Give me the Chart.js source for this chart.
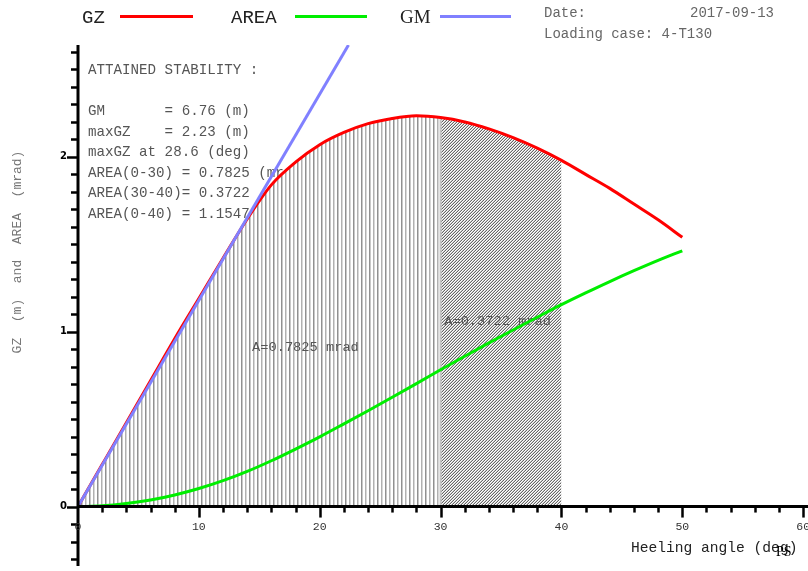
<!DOCTYPE html>
<html>
<head>
<meta charset="utf-8">
<script src="https://cdn.jsdelivr.net/npm/chart.js@4/dist/chart.umd.min.js"></script>
<style>
  html, body { margin: 0; padding: 0; background: #fff; }
  canvas { display: block; }
</style>
</head>
<body>
<canvas id="stabChart" width="808" height="571"></canvas>
<script>
// heeling angles (deg) and curve values
const angles = [0, 2, 4, 6, 8, 10, 12, 14, 16, 18, 20, 22, 24, 26, 28, 30, 32, 34, 36, 38, 40, 42, 44, 46, 48, 50];
const gzValues = [0, 0.24, 0.48, 0.72, 0.96, 1.19, 1.42, 1.645, 1.84, 1.97, 2.07, 2.14, 2.19, 2.22, 2.235, 2.225, 2.20, 2.16, 2.11, 2.05, 1.98, 1.90, 1.82, 1.73, 1.64, 1.54];
const areaValues = [0, 0.004, 0.017, 0.037, 0.066, 0.103, 0.148, 0.201, 0.262, 0.329, 0.399, 0.473, 0.548, 0.625, 0.703, 0.7825, 0.860, 0.936, 1.010, 1.083, 1.1547, 1.222, 1.287, 1.349, 1.408, 1.463];
const gmAngles = [0, 22.38];
const gmValues = [0, 2.64];

const xTicks = [0, 10, 20, 30, 40, 50, 60];
const yTicks = [0, 1, 2];

const statLines = [
    'ATTAINED STABILITY :',
    '',
    'GM       = 6.76 (m)',
    'maxGZ    = 2.23 (m)',
    'maxGZ at 28.6 (deg)',
    'AREA(0-30) = 0.7825 (mrad)',
    'AREA(30-40)= 0.3722',
    'AREA(0-40) = 1.1547'
];
const areaLabels = [
    { x: 14.4, y: 0.91, text: 'A=0.7825 mrad' },
    { x: 30.3, y: 1.06, text: 'A=0.3722 mrad' }
];

const mono = '"Liberation Mono", "Courier New", monospace';

function pts(xs, ys) {
    return xs.map((x, i) => ({ x: x, y: ys[i] }));
}
function range(lo, hi) {
    return pts(angles, gzValues).filter((p) => p.x >= lo && p.x <= hi);
}

const canvas = document.getElementById('stabChart');
const ctx = canvas.getContext('2d');

function makePattern(w, h, colorAt) {
    const c = document.createElement('canvas');
    c.width = w;
    c.height = h;
    const g = c.getContext('2d');
    const img = g.createImageData(w, h);
    for (let y = 0; y < h; y++) {
        for (let x = 0; x < w; x++) {
            const v = colorAt(x, y);
            const k = (y * w + x) * 4;
            img.data[k] = v; img.data[k + 1] = v; img.data[k + 2] = v; img.data[k + 3] = 255;
        }
    }
    g.putImageData(img, 0, 0);
    return ctx.createPattern(c, 'repeat');
}

const vCols = [255, 0x90, 0xc8, 255, 255, 0xb0, 0xd8, 255];
const verticalHatch = makePattern(8, 1, (x) => vCols[x]);
const dCols = [255, 0xcc, 0x66];
const diagonalHatch = makePattern(3, 3, (x, y) => dCols[(x + y) % 3]);

const overlay = {
    id: 'overlay',
    beforeDatasetsDraw(chart) {
        const c = chart.ctx;
        c.save();
        c.textBaseline = 'middle';
        c.textAlign = 'left';

        // stats block (hidden partly by the hatched area)
        c.fillStyle = '#555';
        c.font = '14.2px ' + mono;
        statLines.forEach((line, i) => c.fillText(line, 88, 70 + i * 20.6));

        // legend
        c.fillStyle = '#222';
        c.font = '19px ' + mono;
        c.fillText('GZ', 82, 18);
        c.fillText('AREA', 231, 18);
        c.font = '19px "Liberation Serif", serif';
        c.fillText('GM', 400, 18);
        c.lineWidth = 3;
        [[120, 193, '#ff0000'], [295, 367, '#00ee00'], [440, 511, '#8080ff']].forEach((l) => {
            c.strokeStyle = l[2];
            c.beginPath();
            c.moveTo(l[0], 16.5);
            c.lineTo(l[1], 16.5);
            c.stroke();
        });

        // date block
        c.fillStyle = '#666';
        c.font = '14px ' + mono;
        c.fillText('Date:', 544, 13);
        c.fillText('2017-09-13', 690, 13);
        c.fillText('Loading case: 4-T130', 544, 34);

        // y axis title
        c.save();
        c.translate(18, 252);
        c.rotate(-Math.PI / 2);
        c.textAlign = 'center';
        c.fillStyle = '#777';
        c.font = '13px ' + mono;
        c.fillText('GZ  (m)  and  AREA  (mrad)', 0, 0);
        c.restore();
        c.restore();
    },
    afterDatasetDraw(chart, args) {
        if (args.index !== 4) return;
        const c = chart.ctx;
        const xs = chart.scales.x;
        const ys = chart.scales.y;
        c.save();
        // boundary between the two hatched areas
        c.strokeStyle = '#c4c4c4';
        c.lineWidth = 2;
        c.beginPath();
        c.moveTo(xs.getPixelForValue(30), ys.getPixelForValue(0));
        c.lineTo(xs.getPixelForValue(30), ys.getPixelForValue(gzValues[angles.indexOf(30)]));
        c.stroke();
        c.fillStyle = '#555';
        c.font = '13.7px ' + mono;
        c.textBaseline = 'middle';
        c.textAlign = 'left';
        areaLabels.forEach((a) => c.fillText(a.text, xs.getPixelForValue(a.x), ys.getPixelForValue(a.y)));
        c.restore();
    },
    afterDatasetsDraw(chart) {
        const c = chart.ctx;
        const xs = chart.scales.x;
        const ys = chart.scales.y;
        const x0 = xs.getPixelForValue(0);
        const y0 = ys.getPixelForValue(0);
        c.save();
        c.strokeStyle = '#000';
        c.fillStyle = '#000';

        // axis lines
        c.lineWidth = 3;
        c.beginPath();
        c.moveTo(x0, chart.chartArea.top);
        c.lineTo(x0, chart.chartArea.bottom);
        c.moveTo(x0, y0);
        c.lineTo(chart.chartArea.right, y0);
        c.stroke();

        // y ticks every 0.1
        c.lineWidth = 2.5;
        for (let i = -3; i <= 26; i++) {
            const py = Math.round(ys.getPixelForValue(i / 10)) + 0.5;
            const len = i % 10 === 0 ? 11 : 7;
            c.beginPath();
            c.moveTo(x0 - len, py);
            c.lineTo(x0 + 1, py);
            c.stroke();
        }
        // x ticks every 2 deg
        for (let d = 2; d <= 60; d += 2) {
            const px = Math.round(xs.getPixelForValue(d)) + 0.5;
            const len = d % 10 === 0 ? 11 : 6;
            c.beginPath();
            c.moveTo(px, y0);
            c.lineTo(px, y0 + len);
            c.stroke();
        }

        // tick labels
        c.font = 'bold 10px "DejaVu Sans", sans-serif';
        c.textAlign = 'right';
        c.textBaseline = 'middle';
        yTicks.forEach((v) => c.fillText(String(v), 67, ys.getPixelForValue(v)));
        c.fillStyle = '#333';
        c.font = '11.5px ' + mono;
        c.textAlign = 'center';
        xTicks.forEach((v) => c.fillText(String(v), xs.getPixelForValue(v), 527));

        // x axis title
        c.fillStyle = '#222';
        c.textAlign = 'left';
        c.font = '14.6px ' + mono;
        c.fillText('Heeling angle (deg)', 631, 548);
        c.font = '14px "Liberation Serif", serif';
        c.fillStyle = '#000';
        c.fillText('PS', 776, 552);
        c.restore();
    }
};

new Chart(canvas, {
    type: 'line',
    data: {
        datasets: [
            {
                label: 'GM',
                data: pts(gmAngles, gmValues),
                borderColor: '#8080ff',
                borderWidth: 3,
                pointRadius: 0,
                fill: false,
                order: 0
            },
            {
                label: 'GZ',
                data: pts(angles, gzValues),
                borderColor: '#ff0000',
                borderWidth: 3,
                pointRadius: 0,
                cubicInterpolationMode: 'monotone',
                fill: false,
                order: 1
            },
            {
                label: 'AREA',
                data: pts(angles, areaValues),
                borderColor: '#00ee00',
                borderWidth: 3,
                pointRadius: 0,
                cubicInterpolationMode: 'monotone',
                fill: false,
                order: 1
            },
            {
                label: 'A 0-30',
                data: range(0, 30),
                borderWidth: 0,
                borderColor: 'rgba(0,0,0,0)',
                backgroundColor: verticalHatch,
                pointRadius: 0,
                cubicInterpolationMode: 'monotone',
                fill: 'origin',
                order: 3
            },
            {
                label: 'A 30-40',
                data: range(30, 40),
                borderWidth: 0,
                borderColor: 'rgba(0,0,0,0)',
                backgroundColor: diagonalHatch,
                pointRadius: 0,
                cubicInterpolationMode: 'monotone',
                fill: 'origin',
                order: 2
            }
        ]
    },
    options: {
        responsive: false,
        animation: false,
        events: [],
        layout: { padding: { left: 78, right: 0, top: 45, bottom: 5 } },
        scales: {
            x: { type: 'linear', min: 0, max: 60.4, display: false },
            y: { type: 'linear', min: -0.34, max: 2.64, display: false }
        },
        plugins: {
            legend: { display: false },
            tooltip: { enabled: false }
        }
    },
    plugins: [overlay]
});
</script>
</body>
</html>
